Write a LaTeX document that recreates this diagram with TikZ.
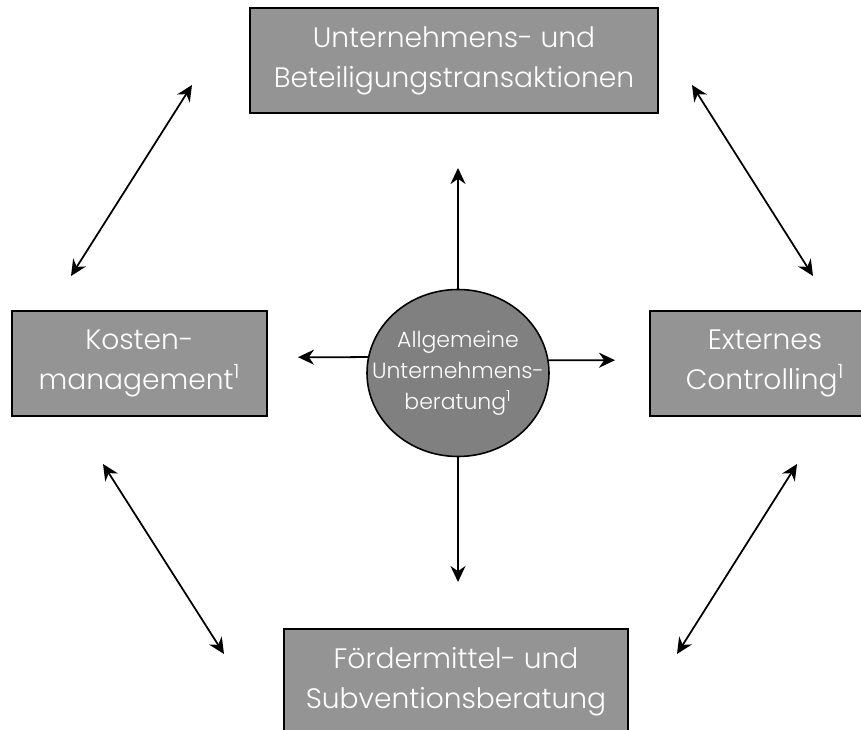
\documentclass[tikz,border=0pt]{standalone}
\usepackage{fontspec}
\setmainfont{Poppins}[UprightFont={* Light}]
\usetikzlibrary{arrows.meta, shapes.geometric}

\begin{document}
\begin{tikzpicture}[
		field/.style ={rectangle,	draw=black,	fill=black!42,	line width=0.9pt,	text=white,	align=center,	inner sep=0pt,	font=\fontsize{16}{22.8}\selectfont},
		core/.style  ={ellipse,		draw=black,	fill=black!50,	line width=0.9pt,	text=white,	align=center,	inner xsep=-0.45cm,	inner ysep=0pt,	font=\fontsize{12.5}{17.7}\selectfont},
		link/.style  ={line width=1pt,	-{Stealth[length=3.2mm,width=3mm]}},
		twoway/.style={line width=1pt,	{Stealth[length=3.2mm,width=3mm]}-{Stealth[length=3.2mm,width=3mm]}},
	]

	% frame
	\clip (0,0) rectangle (17.22,14.6);

	% nodes
	\node [field, minimum width=8.16cm, minimum height=2.1cm] (trans) at (9.08,13.39) {Unternehmens- und\\Beteiligungstransaktionen};
	\node [field, minimum width=5.1cm, minimum height=2.1cm] (kosten) at (2.79,7.33) {Kosten-\\management\textsuperscript{1}};
	\node [field, minimum width=4.6cm, minimum height=2.1cm] (control) at (15.3,7.33) {Externes\\Controlling\textsuperscript{1}};
	\node [field, minimum width=6.88cm, minimum height=2.1cm] (foerder) at (9.12,0.97) {Fördermittel- und\\Subventionsberatung};
	\node [core, minimum width=3.64cm, minimum height=3.34cm] (allg) at (9.16,7.14) {Allgemeine\\Unternehmens-\\beratung\textsuperscript{1}};

	% free ends
	\coordinate (up) at (9.16,11.24);
	\coordinate (down) at (9.16,2.96);
	\coordinate (left) at (5.96,7.456);
	\coordinate (right) at (12.30,7.396);

	\coordinate (tl1) at (3.84,12.90);
	\coordinate (tl2) at (1.42,9.08);
	\coordinate (tr1) at (13.84,12.90);
	\coordinate (tr2) at (16.26,9.08);
	\coordinate (bl1) at (2.06,5.32);
	\coordinate (bl2) at (4.48,1.52);
	\coordinate (br1) at (15.94,5.32);
	\coordinate (br2) at (13.54,1.52);

	% interconnections
	\draw [link] (allg.north) -- (up);
	\draw [link] (allg.south) -- (down);
	\draw [link] (allg.170) -- (left);
	\draw [link] (allg.8) -- (right);

	\foreach \a/\b in {tl1/tl2, tr1/tr2, bl1/bl2, br1/br2}
		\draw [twoway] (\a) -- (\b);

\end{tikzpicture}
\end{document}
